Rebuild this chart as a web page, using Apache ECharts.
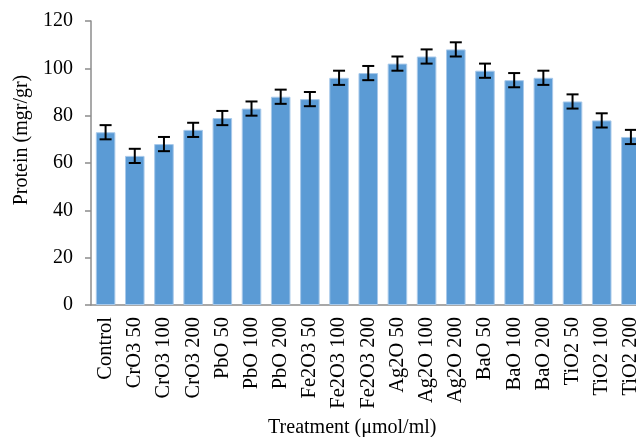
<!DOCTYPE html>
<html>
<head>
<meta charset="utf-8">
<script src="https://cdn.jsdelivr.net/npm/echarts@6/dist/echarts.min.js"></script>
<style>
  html, body { margin: 0; padding: 0; background: #fff; overflow: hidden; }
  #chart { width: 636px; height: 437px; }
</style>
</head>
<body>
<div id="chart"></div>
<script>
// Treatment groups (concentration in µmol/ml)
const categories = [
  'Control', 'CrO3 50', 'CrO3 100', 'CrO3 200',
  'PbO 50', 'PbO 100', 'PbO 200',
  'Fe2O3 50', 'Fe2O3 100', 'Fe2O3 200',
  'Ag2O 50', 'Ag2O 100', 'Ag2O 200',
  'BaO 50', 'BaO 100', 'BaO 200',
  'TiO2 50', 'TiO2 100', 'TiO2 200'
];

// Mean protein content (mgr/gr)
const protein = [73, 63, 68, 74, 79, 83, 88, 87, 96, 98, 102, 105, 108, 99, 95, 96, 86, 78, 71];

// Standard error for each group
const proteinErr = [3, 3, 3, 3, 3, 3, 3, 3, 3, 3, 3, 3, 3, 3, 3, 3, 3, 3, 3];

// Value-axis ticks
const yTicks = [0, 20, 40, 60, 80, 100, 120];

const errorData = protein.map((v, i) => [i, v - proteinErr[i], v + proteinErr[i]]);

const font = '"Liberation Serif", "Times New Roman", serif';
const axisGray = '#8c8c8c';

const chart = echarts.init(document.getElementById('chart'));
chart.setOption({
  animation: false,
  backgroundColor: '#fff',
  grid: {
    left: 91, top: 21, width: 554.5, height: 284,
    containLabel: false,
    outerBoundsMode: 'none'
  },
  xAxis: {
    type: 'category',
    data: categories,
    name: 'Treatment (μmol/ml)',
    nameLocation: 'middle',
    nameGap: 113,
    nameTextStyle: { fontFamily: font, fontSize: 20, color: '#000', padding: [0, 32, 0, 0] },
    axisLine: { lineStyle: { color: axisGray, width: 1.5 } },
    axisTick: { show: false },
    axisLabel: { rotate: 90, margin: 12, interval: 0, fontFamily: font, fontSize: 20.5, color: '#000', hideOverlap: false }
  },
  yAxis: {
    type: 'value',
    min: yTicks[0],
    max: yTicks[yTicks.length - 1],
    interval: yTicks[1] - yTicks[0],
    name: 'Protein (mgr/gr)',
    nameLocation: 'middle',
    nameGap: 59,
    nameTextStyle: { fontFamily: font, fontSize: 20, color: '#000', padding: [0, 0, 0, 46] },
    axisLine: { show: true, lineStyle: { color: axisGray, width: 1.5 } },
    axisTick: { show: true, length: 6, lineStyle: { color: axisGray, width: 1.5 } },
    splitLine: { show: false },
    axisLabel: { margin: 18, fontFamily: font, fontSize: 20, color: '#000' }
  },
  series: [
    {
      type: 'bar',
      data: protein,
      barWidth: '67%',
      itemStyle: { color: '#5b9bd5', borderColor: '#a8c9ea', borderWidth: 1 }
    },
    {
      type: 'custom',
      data: errorData,
      z: 10,
      renderItem: function (params, api) {
        const x = api.value(0);
        const lo = api.coord([x, api.value(1)]);
        const hi = api.coord([x, api.value(2)]);
        const cap = 6;
        const style = { stroke: '#000', lineWidth: 2 };
        return {
          type: 'group',
          children: [
            { type: 'line', shape: { x1: hi[0], y1: hi[1], x2: lo[0], y2: lo[1] }, style: style },
            { type: 'line', shape: { x1: hi[0] - cap, y1: hi[1], x2: hi[0] + cap, y2: hi[1] }, style: style },
            { type: 'line', shape: { x1: lo[0] - cap, y1: lo[1], x2: lo[0] + cap, y2: lo[1] }, style: style }
          ]
        };
      }
    }
  ]
});
</script>
</body>
</html>
